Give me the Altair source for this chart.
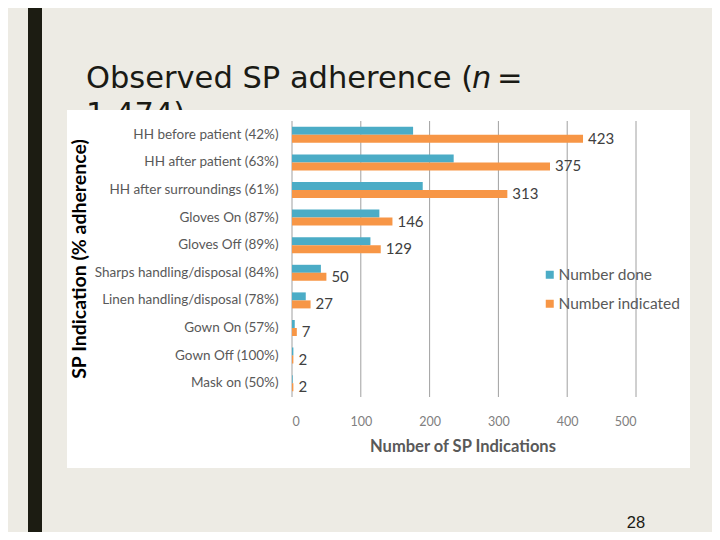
import altair as alt
import pandas as pd

categories = [
    "HH before patient (42%)",
    "HH after patient (63%)",
    "HH after surroundings (61%)",
    "Gloves On (87%)",
    "Gloves Off (89%)",
    "Sharps handling/disposal (84%)",
    "Linen handling/disposal (78%)",
    "Gown On (57%)",
    "Gown Off (100%)",
    "Mask on (50%)",
]
number_done = [176, 235, 190, 127, 114, 42, 20, 4, 2, 1]
number_indicated = [423, 375, 313, 146, 129, 50, 27, 7, 2, 2]
series = ["Number done", "Number indicated"]
series_colors = ["#4BACC6", "#F79646"]
x_ticks = [0, 100, 200, 300, 400, 500]

rows = []
for c, d, n in zip(categories, number_done, number_indicated):
    rows.append({"cat": c, "series": series[0], "value": d})
    rows.append({"cat": c, "series": series[1], "value": n})
df = pd.DataFrame(rows)
ind = df[df["series"] == series[1]]
ticks_df = pd.DataFrame({"value": x_ticks})
one = pd.DataFrame({"k": [0]})

W, H = 344, 276
PL, PT = 284, 113
PR = 704 - PL - W
PB = 524 - PT - H

SLIDE = "#EDEBE4"
DARK = "#1C1C12"

x_scale = alt.Scale(domain=[0, 500], nice=False, zero=True)
y_scale = alt.Scale(domain=categories, paddingInner=0.42, paddingOuter=0.21)
off_scale = alt.Scale(domain=series, paddingInner=0, paddingOuter=0)

x_axis = alt.Axis(values=x_ticks, grid=False, domain=False, ticks=False, tickSize=0,
                  labelPadding=18, labelFont="Lato", labelFontSize=12.5,
                  labelColor="#808080", title=None, zindex=2)
y_axis = alt.Axis(grid=False, domain=False, ticks=False, tickSize=0, labelPadding=14,
                  labelFont="Lato", labelFontSize=13.5, labelColor="#595959",
                  title=None, labelLimit=400, zindex=2)

X = alt.X("value:Q", scale=x_scale, axis=x_axis)
Y = alt.Y("cat:N", scale=y_scale, axis=y_axis, sort=categories)

# decorations (slide)
dark_bar = alt.Chart(one).mark_rect(color=DARK).encode(
    x=alt.value(-264), x2=alt.value(-250), y=alt.value(-130), y2=alt.value(440))

def txt(s, x, y, size, font="DejaVu Sans", color="#1A1A14", align="left",
        baseline="alphabetic", style="normal", weight="normal", angle=0):
    kw = dict(text=s, font=font, fontSize=size, color=color, align=align,
              baseline=baseline, fontStyle=style, fontWeight=weight)
    if angle:
        kw["angle"] = angle
    return alt.Chart(one).mark_text(**kw).encode(x=alt.value(x), y=alt.value(y))

t1 = txt("Observed SP adherence (", -206, -33, 30.5)
t2 = txt("n", 180, -33, 30.5, style="italic")
t3 = txt("=", 205, -33, 30.5)
t4 = txt("1,474)", -206, 3, 30.5)

white_box = alt.Chart(one).mark_rect(color="white").encode(
    x=alt.value(-225), x2=alt.value(398), y=alt.value(-11), y2=alt.value(347))

grid = alt.Chart(ticks_df).mark_rule(color="#A0A0A0", strokeWidth=1).encode(
    x=X, y=alt.value(0), y2=alt.value(H))

bars = alt.Chart(df).mark_bar().encode(
    x=X,
    y=Y,
    yOffset=alt.YOffset("series:N", scale=off_scale, sort=series),
    color=alt.Color("series:N", scale=alt.Scale(domain=series, range=series_colors),
                    legend=alt.Legend(orient="none", legendX=250, legendY=146, title=None,
                                      symbolType="square", symbolSize=64,
                                      symbolStrokeWidth=0, labelFont="Lato",
                                      labelFontSize=15.5, labelColor="#595959",
                                      rowPadding=12, labelOffset=1)),
)

labels = alt.Chart(ind).mark_text(align="left", baseline="middle", dx=5,
                                  font="Lato", fontSize=15, color="#404040").encode(
    x=X,
    y=Y,
    yOffset=alt.YOffset("series:N", scale=off_scale, sort=series),
    text=alt.Text("value:Q"),
)

y_title = txt("SP Indication (% adherence)", -212, 138, 19.5, font="Lato",
              color="#000000", align="center", baseline="middle", weight="bold",
              angle=270)
x_title = txt("Number of SP Indications", 171, 326, 16.5, font="Lato",
              color="#595959", align="center", baseline="middle", weight="bold")
page_num = txt("28", 344, 407, 16.5, font="Liberation Sans", color="#1A1A14",
               align="center")

chart = alt.layer(
    dark_bar, t1, t2, t3, t4, white_box, grid, bars, labels, y_title, x_title, page_num
).properties(
    width=W, height=H,
    padding={"left": PL, "top": PT, "right": PR, "bottom": PB},
    autosize=alt.AutoSizeParams(type="none"),
    background=SLIDE,
).configure_view(stroke=None)

chart.save("out.html", embed_options={"renderer": "svg", "actions": False})
